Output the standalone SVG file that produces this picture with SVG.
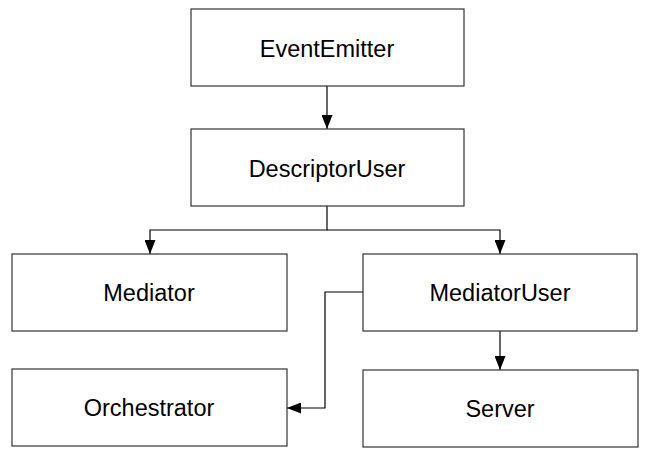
<svg xmlns="http://www.w3.org/2000/svg" width="649" height="456" viewBox="0 0 649 456">
<defs>
<marker id="arr" markerWidth="14" markerHeight="11" refX="14" refY="5.5" orient="auto" markerUnits="userSpaceOnUse">
<path d="M0,0 L14,5.5 L0,11 Z" fill="#000"/>
</marker>
<style>
.box{fill:#fff;stroke:#333;stroke-width:1.2}
.lbl{font-family:"Liberation Sans",Arial,sans-serif;font-size:23.5px;fill:#000;text-anchor:middle}
.con{fill:none;stroke:#000;stroke-width:1.2;marker-end:url(#arr)}
</style>
</defs>
<rect width="649" height="456" fill="#fff"/>
<g id="connectors">
<path class="con" d="M327,86 L327,129"/>
<path class="con" d="M327,206 L327,230 L150,230 L150,254"/>
<path class="con" d="M327,230 L500,230 L500,254"/>
<path class="con" d="M500,331 L500,370"/>
<path class="con" d="M363,292 L325,292 L325,408 L287,408"/>
</g>
<g id="EventEmitter"><rect class="box" x="191" y="9" width="273" height="77"/><text class="lbl" x="327" y="56.5">EventEmitter</text></g>
<g id="DescriptorUser"><rect class="box" x="191" y="129" width="273" height="77"/><text class="lbl" x="327" y="176.5">DescriptorUser</text></g>
<g id="Mediator"><rect class="box" x="12" y="254" width="275" height="77"/><text class="lbl" x="149" y="300.5">Mediator</text></g>
<g id="MediatorUser"><rect class="box" x="363" y="254" width="274" height="77"/><text class="lbl" x="500" y="300.5">MediatorUser</text></g>
<g id="Orchestrator"><rect class="box" x="12" y="369" width="275" height="77"/><text class="lbl" x="149" y="416">Orchestrator</text></g>
<g id="Server"><rect class="box" x="363" y="370" width="275" height="77"/><text class="lbl" x="500" y="417">Server</text></g>
</svg>
